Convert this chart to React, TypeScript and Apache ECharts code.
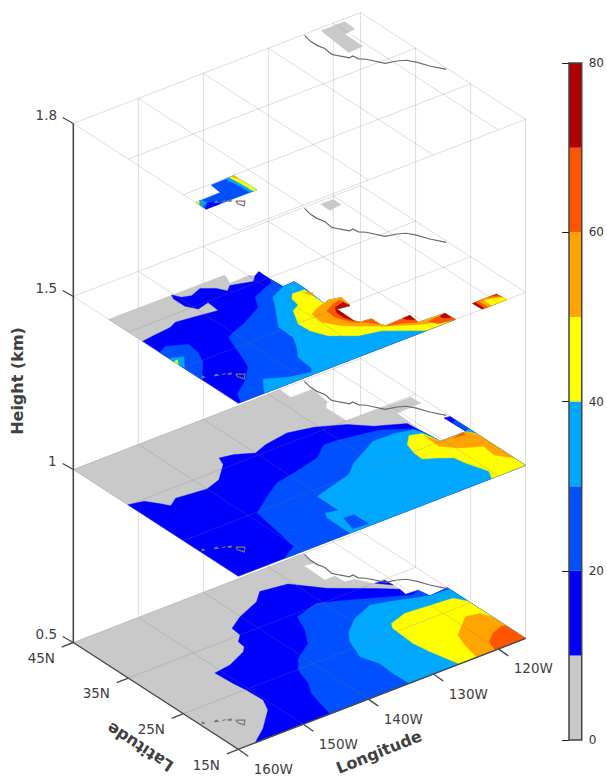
import React, { useEffect, useRef } from "react";
import * as echarts from "echarts";

type Pt = number[];

// ---- axis values ----
const lonTicks = [-160, -150, -140, -130, -120];
const lonLabels = ["160W", "150W", "140W", "130W", "120W"];
const latTicks = [15, 25, 35, 45];
const latLabels = ["15N", "25N", "35N", "45N"];
const heightLabels = ["0.5", "1", "1.5", "1.8"];
const lonEast = -115.8;
const lonWest = -160;
const latS = 15;
const latN = 45;

// ---- colour scale ----
const colorStops = [0, 10, 20, 30, 40, 50, 60, 70, 80];
const colorBins = ["#c9c9c9", "#0000ff", "#0050ff", "#00a8ff", "#ffff00", "#ffa400", "#ff5500", "#b00000"];
const colorTicks = [0, 20, 40, 60, 80];

// ---- coast and islands (lon, lat) ----
const coast: Pt[] = [[-124.6, 44.8], [-124.9, 43.4], [-124.9, 42.2], [-124.6, 41.1], [-124.8, 39.6], [-124.3, 38.8], [-123.6, 37.8], [-123, 37.9], [-122.9, 37], [-122.2, 36.4], [-121, 34.4], [-119.5, 34], [-118.5, 33.5], [-117.8, 32.5], [-117.1, 30.9], [-116, 29.2]];
const islandBig: Pt[] = [[-155.9, 20.3], [-155, 19.7], [-155.8, 18.9], [-156.1, 19.7], [-155.9, 20.3]];
const islandMaui: Pt[] = [[-156.7, 20.9], [-156.2, 20.8], [-156.4, 20.6], [-156.7, 20.9]];
const islandMolokai: Pt[] = [[-157.3, 21.1], [-156.8, 21.1]];
const islandOahu: Pt[] = [[-158.2, 21.5], [-157.8, 21.6], [-157.8, 21.3], [-158.2, 21.5]];
const islandKauai: Pt[] = [[-159.7, 22], [-159.4, 22.2], [-159.4, 21.9], [-159.7, 22]];

// ---- 0.5 km ----
const h05Gray: Pt[] = [[-160, 45], [-124.6, 45], [-125, 42.6], [-126.35, 42.84], [-126.45, 38.9], [-124.9, 38.9], [-124.8, 37.25], [-123.5, 37], [-122.3, 35], [-120.7, 34.8], [-120.6, 33.4], [-120.6, 32.2], [-120.8, 30.9], [-119, 30.8], [-118.7, 29], [-115.8, 29.2], [-115.8, 15], [-160, 15]];
const h05Blue10: Pt[] = [[-157.4, 15], [-154.5, 17], [-151.3, 19.9], [-150.25, 22], [-150.4, 24.9], [-150.7, 27], [-150.9, 30], [-148.25, 30.4], [-145, 31.8], [-144.15, 32.65], [-144, 33.9], [-142.8, 35], [-142.6, 36.7], [-140.1, 38.2], [-136.3, 39.7], [-134.45, 41.3], [-130.6, 40.7], [-127.5, 37.3], [-122.7, 33.9], [-120.6, 32.2], [-120.8, 30.9], [-119, 30.8], [-118.7, 29], [-115.8, 29.2], [-115.8, 15]];
const h05BlueIsle: Pt[] = [[-122.1, 34.9], [-120.7, 34.8], [-120.6, 33.4]];
const h05Blue20: Pt[] = [[-145.9, 15], [-144.6, 19.9], [-143.4, 21.9], [-142.4, 24.9], [-140.7, 26.9], [-137.5, 28.9], [-135.8, 31.5], [-134.6, 34.3], [-130.7, 35.4], [-127, 33.7], [-120.2, 30.3], [-119, 30.8], [-118.7, 29], [-115.8, 29.2], [-115.8, 15]];
const h05Sky30: Pt[] = [[-133.7, 15], [-133.8, 17.85], [-133.6, 20.5], [-134.5, 23], [-133.2, 26.4], [-131.8, 28.2], [-129.3, 30.1], [-125.8, 31.45], [-123.4, 30.7], [-118.7, 29], [-115.8, 28.8], [-115.8, 15]];
const h05Yellow40: Pt[] = [[-126, 15], [-127, 19.2], [-127.4, 21.8], [-127.1, 25.8], [-126.5, 26.75], [-123.7, 27.6], [-120.6, 27.3], [-116.8, 27], [-115.8, 25.4], [-115.8, 15]];
const h05Orange50: Pt[] = [[-123.3, 15], [-122.65, 18], [-121.8, 20.2], [-118.4, 22.9], [-116.5, 22.5], [-115.8, 20.9], [-115.8, 15]];
const h05Red60: Pt[] = [[-120.5, 15], [-119.8, 16.9], [-118.2, 18.1], [-116.3, 18.8], [-115.8, 18.5], [-115.8, 15]];

// ---- 1 km ----
const h10Gray: Pt[] = [[-160, 45], [-128.2, 45], [-128.3, 42.9], [-125, 42.9], [-125.4, 39.7], [-126.5, 38.7], [-126.4, 35], [-116.7, 34.8], [-116.6, 33.1], [-120.4, 32.9], [-120.7, 28], [-120.4, 25], [-116.5, 25], [-116.6, 28.9], [-115.8, 28.7], [-115.8, 15], [-160, 15]];
const h10Blue10: Pt[] = [[-160, 35.1], [-157.9, 34.6], [-156.7, 33.05], [-156, 32], [-154.4, 33], [-151.9, 32.7], [-150, 32.5], [-147.5, 33.3], [-144.8, 35.7], [-144.25, 37.1], [-142.3, 36.7], [-140, 35.5], [-137.8, 36.3], [-134, 36.9], [-130.5, 36.1], [-126.9, 34.3], [-124.6, 32.2], [-121, 30.4], [-120.7, 28], [-120.4, 25], [-116.5, 25], [-116.6, 28.9], [-115.8, 28.7], [-115.8, 15], [-160, 15]];
const h10Blue20: Pt[] = [[-153, 15], [-150.2, 16.5], [-149.4, 21.1], [-148.75, 24.85], [-145.3, 27.1], [-142.35, 28.8], [-139.3, 29.4], [-134.8, 30.45], [-132.2, 32.3], [-130.2, 32.2], [-124.5, 31.1], [-121.2, 29], [-120.7, 28], [-120.4, 25], [-116.5, 25], [-116.4, 27.6], [-115.8, 27.6], [-115.8, 15]];
const h10Sky30: Pt[] = [[-142.8, 15], [-142.75, 19.2], [-142.2, 20.2], [-140.5, 19.8], [-140.5, 23.7], [-137.2, 24.6], [-134.2, 25.4], [-132, 27.1], [-128.9, 28.6], [-127, 29.6], [-123.8, 29.5], [-121.3, 28.9], [-120.8, 27.6], [-120.4, 25], [-116.5, 25], [-115.8, 25.3], [-115.8, 15]];
const h10BlueIsle: Pt[] = [[-141.2, 18.1], [-139.7, 18], [-139.6, 15.4], [-141.9, 15.6]];
const h10Yellow40: Pt[] = [[-121, 15], [-120.2, 16.5], [-121.25, 19.5], [-121.6, 21.2], [-123.2, 22.3], [-124.8, 23.15], [-124.7, 24.8], [-124.1, 26.7], [-122.6, 28.15], [-121, 27.6], [-120.4, 25], [-116.5, 25], [-115.8, 23.9], [-115.8, 15]];
const h10Orange50: Pt[] = [[-121.2, 27.1], [-120.4, 25], [-116.5, 25], [-115.8, 23.4], [-115.8, 17.1], [-117.3, 19], [-117, 21.2], [-119.5, 22.5], [-121.3, 24.25]];
const h10Red60: Pt[] = [[-118.6, 24.7], [-117, 25], [-117, 24.5]];

// ---- 1.5 km ----
const h15Gray: Pt[] = [[-160, 38.6], [-142.2, 38.5], [-142.9, 36.7], [-139.8, 36.8], [-139.4, 36.3], [-138.4, 36.8], [-138.45, 34.7], [-138.3, 32.5], [-136.5, 32.6], [-136.5, 30.7], [-136.9, 26.6], [-136, 27], [-134.3, 26.6], [-134.7, 24.6], [-136.5, 24.9], [-136.6, 21.7], [-136.2, 21], [-134.6, 20.8], [-134.6, 19.3], [-134.2, 18.6], [-130.4, 18.8], [-130.6, 17], [-126.7, 16.8], [-126.6, 15], [-160, 15]];
const h15GrayNorth: Pt[] = [[-122.4, 44.45], [-120.5, 44.4], [-120.5, 43], [-122.5, 42.7]];
const h15Blue10: Pt[] = [[-160, 32.4], [-157.8, 32.7], [-155.3, 32.95], [-154, 33.55], [-150.8, 33.1], [-148.1, 32.7], [-147.9, 34.8], [-149.8, 34.3], [-150.7, 35.7], [-150.7, 37.8], [-150.3, 38.6], [-149.7, 37.5], [-148.5, 37.1], [-146.6, 37.8], [-145, 36.7], [-144.3, 35.5], [-143.3, 36.3], [-140.4, 35.4], [-139.4, 36.3], [-138.4, 36.8], [-138.45, 34.7], [-138.3, 32.5], [-136.5, 32.6], [-136.5, 30.7], [-136.9, 26.6], [-136, 27], [-134.3, 26.6], [-134.7, 24.6], [-136.5, 24.9], [-136.6, 21.7], [-136.2, 21], [-134.6, 20.8], [-134.6, 19.3], [-134.2, 18.6], [-130.4, 18.8], [-130.6, 17], [-126.7, 16.8], [-126.6, 15], [-160, 15]];
const h15Blue20Patch: Pt[] = [[-160, 29.3], [-158.6, 29.95], [-156, 28.8], [-156.3, 26.7], [-157.3, 24.6], [-158.9, 22.9], [-160, 21.5]];
const h15SkyPatch: Pt[] = [[-160, 27.6], [-158.3, 26.9], [-159.8, 25], [-160, 25.5]];
const h15YellowPatch: Pt[] = [[-160, 26.7], [-159.4, 26.8], [-160, 25.9]];
const h15Blue20: Pt[] = [[-159.6, 15], [-158.7, 16.7], [-156, 18.5], [-153.7, 20.65], [-152.9, 22.5], [-151.1, 27.3], [-149.5, 28], [-147.7, 28.6], [-143.8, 30.5], [-142.6, 32.5], [-141, 33.2], [-138.8, 34], [-138.45, 34.7], [-138.3, 32.5], [-136.5, 32.6], [-136.5, 30.7], [-136.9, 26.6], [-136, 27], [-134.3, 26.6], [-134.7, 24.6], [-136.5, 24.9], [-136.6, 21.7], [-136.2, 21], [-134.6, 20.8], [-134.6, 19.3], [-134.2, 18.6], [-130.4, 18.8], [-130.6, 17], [-126.7, 16.8], [-126.6, 15]];
const h15Sky30: Pt[] = [[-156, 15], [-154, 17.6], [-151.3, 16.2], [-148.3, 15.5], [-147.7, 16.2], [-147.4, 19], [-146, 20.9], [-144.9, 22.9], [-144.8, 25.65], [-141.9, 29.7], [-140.9, 31.3], [-138.3, 32.5], [-136.5, 32.6], [-136.5, 30.7], [-136.9, 26.6], [-136, 27], [-134.3, 26.6], [-134.7, 24.6], [-136.5, 24.9], [-136.6, 21.7], [-136.2, 21], [-134.6, 20.8], [-134.6, 19.3], [-134.2, 18.6], [-130.4, 18.8], [-130.6, 17], [-126.7, 16.8], [-126.6, 15]];
const h15Yellow40: Pt[] = [[-136.7, 30.5], [-138.5, 30.6], [-139.3, 29.7], [-139.6, 28.2], [-140.9, 27.6], [-142.4, 24.9], [-142.3, 22.9], [-141.3, 20.8], [-138.4, 18.75], [-135.4, 18], [-131, 15], [-126.6, 15], [-126.7, 16.8], [-130.6, 17], [-130.4, 18.8], [-134.2, 18.6], [-134.6, 19.3], [-134.6, 20.8], [-136.2, 21], [-136.6, 21.7], [-136.5, 24.9], [-134.7, 24.6], [-134.3, 26.6], [-136, 27], [-136.9, 26.6]];
const h15Orange50: Pt[] = [[-139.65, 25.7], [-138, 26.5], [-136, 27], [-134.3, 26.6], [-134.7, 24.6], [-136.5, 24.9], [-136.6, 21.7], [-136.2, 21], [-134.6, 20.8], [-134.6, 19.3], [-134.2, 18.6], [-130.4, 18.8], [-130.6, 17], [-126.7, 16.8], [-126.6, 15], [-130.6, 16.4], [-134.4, 18.6], [-138.5, 21.6], [-139.9, 23.6]];
const h15OrangeSpot: Pt[] = [[-137.3, 30.2], [-136.3, 29.4], [-136.9, 29]];
const h15Red60A: Pt[] = [[-137.7, 25.3], [-136.1, 26], [-134.8, 26.3], [-134.7, 24.6], [-136.5, 24.9], [-136.6, 21.7], [-136.2, 21], [-137, 21.6], [-137.9, 23.6]];
const h15Red60B: Pt[] = [[-136, 20.9], [-134.6, 20.8], [-134.6, 19.3], [-135.2, 20.1]];
const h15Red60C: Pt[] = [[-134.2, 18.6], [-130.4, 18.8], [-130.6, 17], [-132, 17.8]];
const h15Red60D: Pt[] = [[-129.5, 16.5], [-126.7, 16.8], [-126.6, 15], [-128.9, 15.4]];
const h15Dark70A: Pt[] = [[-136.4, 25.3], [-134.9, 25.6], [-134.7, 24.6], [-136.5, 24.9], [-136.6, 21.7], [-137.1, 23], [-137, 24.3]];
const h15Dark70B: Pt[] = [[-131.5, 18.75], [-130.4, 18.8], [-130.5, 17.7], [-131.3, 18.3]];
const h15Dark70C: Pt[] = [[-127.6, 16.6], [-126.7, 16.8], [-126.7, 15.65], [-127.6, 16.1]];
const h15EastDark: Pt[] = [[-122.6, 16.65], [-118.85, 16.7], [-118.7, 15], [-122.5, 15]];
const h15EastRed: Pt[] = [[-122.1, 15], [-122.1, 16.65], [-119.6, 16.7], [-118.8, 16.3], [-118.7, 15]];
const h15EastOrange: Pt[] = [[-121.6, 15], [-121.6, 16.6], [-120.3, 16.65], [-118.75, 15.9], [-118.7, 15]];
const h15EastYellow: Pt[] = [[-121, 15], [-121, 16.4], [-120, 16.2], [-118.75, 15.6], [-118.7, 15]];

// ---- 1.8 km ----
const h18GrayNorth: Pt[] = [[-122.3, 44.5], [-118.7, 44.5], [-118.8, 42.5], [-120.5, 42.3], [-120.6, 38.9], [-122.9, 38.8]];
const h18Blue20: Pt[] = [[-159.9, 22.8], [-156.1, 22.9], [-155.9, 24.8], [-152.3, 24.9], [-152.2, 20.85], [-160, 20.9]];
const h18Blue10: Pt[] = [[-160, 20.9], [-157.8, 20.9], [-157.6, 21.4], [-158.9, 21.9]];
const h18SkyW: Pt[] = [[-159.9, 22.8], [-159.1, 22.85], [-158.9, 22], [-160, 21.5]];
const h18YellowW: Pt[] = [[-159.9, 22.8], [-159.4, 22.85], [-160, 22.1]];
const h18SkyE: Pt[] = [[-153.6, 24.9], [-152.3, 24.9], [-152.2, 20.85], [-153.2, 20.9], [-153.3, 23]];
const h18YellowE: Pt[] = [[-153, 24.9], [-152.3, 24.9], [-152.2, 20.85], [-152.7, 20.9], [-152.8, 23]];
const h18OrangeE: Pt[] = [[-152.7, 24.9], [-152.3, 24.9], [-152.3, 24], [-152.5, 24.5]];

type Item = { level: number; color: string; pts: Pt[] };
const filled: Item[] = [
  { level: 0, color: colorBins[0], pts: h05Gray },
  { level: 0, color: colorBins[1], pts: h05Blue10 },
  { level: 0, color: colorBins[1], pts: h05BlueIsle },
  { level: 0, color: colorBins[2], pts: h05Blue20 },
  { level: 0, color: colorBins[3], pts: h05Sky30 },
  { level: 0, color: colorBins[4], pts: h05Yellow40 },
  { level: 0, color: colorBins[5], pts: h05Orange50 },
  { level: 0, color: colorBins[6], pts: h05Red60 },
  { level: 1, color: colorBins[0], pts: h10Gray },
  { level: 1, color: colorBins[1], pts: h10Blue10 },
  { level: 1, color: colorBins[2], pts: h10Blue20 },
  { level: 1, color: colorBins[3], pts: h10Sky30 },
  { level: 1, color: colorBins[2], pts: h10BlueIsle },
  { level: 1, color: colorBins[4], pts: h10Yellow40 },
  { level: 1, color: colorBins[5], pts: h10Orange50 },
  { level: 1, color: colorBins[6], pts: h10Red60 },
  { level: 2, color: colorBins[0], pts: h15Gray },
  { level: 2, color: colorBins[0], pts: h15GrayNorth },
  { level: 2, color: colorBins[1], pts: h15Blue10 },
  { level: 2, color: colorBins[2], pts: h15Blue20Patch },
  { level: 2, color: colorBins[3], pts: h15SkyPatch },
  { level: 2, color: colorBins[4], pts: h15YellowPatch },
  { level: 2, color: colorBins[2], pts: h15Blue20 },
  { level: 2, color: colorBins[3], pts: h15Sky30 },
  { level: 2, color: colorBins[4], pts: h15Yellow40 },
  { level: 2, color: colorBins[5], pts: h15OrangeSpot },
  { level: 2, color: colorBins[5], pts: h15Orange50 },
  { level: 2, color: colorBins[6], pts: h15Red60A },
  { level: 2, color: colorBins[6], pts: h15Red60B },
  { level: 2, color: colorBins[6], pts: h15Red60C },
  { level: 2, color: colorBins[6], pts: h15Red60D },
  { level: 2, color: colorBins[7], pts: h15Dark70A },
  { level: 2, color: colorBins[7], pts: h15Dark70B },
  { level: 2, color: colorBins[7], pts: h15Dark70C },
  { level: 2, color: colorBins[7], pts: h15EastDark },
  { level: 2, color: colorBins[6], pts: h15EastRed },
  { level: 2, color: colorBins[5], pts: h15EastOrange },
  { level: 2, color: colorBins[4], pts: h15EastYellow },
  { level: 3, color: colorBins[0], pts: h18GrayNorth },
  { level: 3, color: colorBins[2], pts: h18Blue20 },
  { level: 3, color: colorBins[1], pts: h18Blue10 },
  { level: 3, color: colorBins[3], pts: h18SkyW },
  { level: 3, color: colorBins[4], pts: h18YellowW },
  { level: 3, color: colorBins[3], pts: h18SkyE },
  { level: 3, color: colorBins[4], pts: h18YellowE },
  { level: 3, color: colorBins[5], pts: h18OrangeE },
];

// Oblique projection of (lon, lat, level) into the scene axes
function project(lon: number, lat: number, level: number): number[] {
  const a = lon - lonWest;
  const b = lat - latS;
  return [238.3 + a * 6.5 - b * 5.5, 749.3 - a * 2.51 - b * 3.56 - level * 173];
}

const gridStroke = "rgba(120,120,120,0.25)";
const axisStroke = "#4a4a4a";
const FONT = '"DejaVu Sans"';

type Draw =
  | { kind: "poly"; color: string; pts: number[][] }
  | { kind: "line"; color: string; width: number; pts: number[][] };

function buildDraws(): Draw[] {
  const out: Draw[] = [];
  const gridLons = [...lonTicks, lonEast];
  for (let k = 0; k < heightLabels.length; k++) {
    filled.filter((f) => f.level === k).forEach((f) => {
      out.push({ kind: "poly", color: f.color, pts: f.pts.map((p) => project(p[0], p[1], k)) });
    });
    gridLons.forEach((lon) => {
      out.push({ kind: "line", color: gridStroke, width: 1, pts: [project(lon, latS, k), project(lon, latN, k)] });
    });
    latTicks.forEach((lat) => {
      out.push({ kind: "line", color: gridStroke, width: 1, pts: [project(lonWest, lat, k), project(lonEast, lat, k)] });
    });
    out.push({ kind: "line", color: "#6a6a6a", width: 1.2, pts: coast.map((p) => project(p[0], p[1], k)) });
    [islandBig, islandMaui, islandMolokai, islandOahu, islandKauai].forEach((isl) => {
      out.push({ kind: "line", color: "#777777", width: 1.2, pts: isl.map((p) => project(p[0], p[1], k)) });
    });
  }
  return out;
}

function buildWalls(): Draw[] {
  const top = heightLabels.length - 1;
  const out: Draw[] = [];
  lonTicks.slice(1).forEach((lon) => {
    out.push({ kind: "line", color: "#dddddd", width: 1, pts: [project(lon, latN, 0), project(lon, latN, top)] });
  });
  latTicks.forEach((lat) => {
    out.push({ kind: "line", color: "#dddddd", width: 1, pts: [project(lonEast, lat, 0), project(lonEast, lat, top)] });
  });
  return out;
}

function buildAxes(): Draw[] {
  const top = heightLabels.length - 1;
  const out: Draw[] = [];
  const line = (pts: number[][], width = 1.4) => out.push({ kind: "line", color: axisStroke, width, pts });
  line([project(lonWest, latN, 0), project(lonWest, latS, 0), project(lonEast, latS, 0)]);
  line([project(lonWest, latN, 0), project(lonWest, latN, top)], 1.6);
  heightLabels.forEach((_, k) => {
    const p = project(lonWest, latN, k);
    line([[p[0] - 10.6, p[1] - 6], p]);
  });
  latTicks.forEach((lat) => {
    const p = project(lonWest, lat, 0);
    line([[p[0] - 11.6, p[1] + 4.6], p]);
  });
  lonTicks.forEach((lon) => {
    const p = project(lon, latS, 0);
    line([p, [p[0] + 10, p[1] + 7]]);
  });
  return out;
}

type Label = { text: string; at: number[]; rot: number; font: string };

function buildLabels(): Label[] {
  const out: Label[] = [];
  const tick = `13.5px ${FONT}`;
  const title = `bold 16px ${FONT}`;
  heightLabels.forEach((t, k) => {
    const p = project(lonWest, latN, k);
    out.push({ text: t, at: [p[0] - (t.length === 1 ? 21 : 27), p[1] - 9], rot: 0, font: tick });
  });
  latTicks.forEach((lat, i) => {
    const p = project(lonWest, lat, 0);
    out.push({ text: latLabels[i], at: [p[0] - 32, p[1] + 15.3], rot: 0, font: tick });
  });
  lonTicks.forEach((lon, i) => {
    const p = project(lon, latS, 0);
    out.push({ text: lonLabels[i], at: [p[0] + 35, p[1] + 19.5], rot: 0, font: tick });
  });
  out.push({ text: "Height (km)", at: [17, 381], rot: Math.PI / 2, font: title });
  out.push({ text: "Longitude", at: [379, 752], rot: (22 * Math.PI) / 180, font: title });
  out.push({ text: "Latitude", at: [140, 747], rot: (147 * Math.PI) / 180, font: title });
  return out;
}

function drawSeries(draws: Draw[], z: number) {
  return {
    type: "custom",
    coordinateSystem: "cartesian2d",
    xAxisIndex: 0,
    yAxisIndex: 0,
    clip: false,
    silent: true,
    z,
    data: draws.map((_, i) => [i, 0]),
    renderItem: (params: any, api: any) => {
      const d = draws[params.dataIndex];
      const points = d.pts.map((p) => api.coord(p));
      if (d.kind === "poly") {
        return { type: "polygon", shape: { points }, style: { fill: d.color, stroke: d.color, lineWidth: 0.4 } };
      }
      return { type: "polyline", shape: { points }, style: { fill: "none", stroke: d.color, lineWidth: d.width } };
    },
  };
}

export default function App() {
  const ref = useRef<HTMLDivElement>(null);
  useEffect(() => {
    document.body.style.margin = "0";
    const chart = echarts.init(ref.current!, undefined, { renderer: "svg", width: 607, height: 776 });
    const labels = buildLabels();
    chart.setOption({
      animation: false,
      backgroundColor: "#ffffff",
      grid: [
        { left: 0, top: 0, width: 607, height: 776 },
        { left: 569, top: 63, width: 16, height: 677 },
      ],
      xAxis: [
        { type: "value", min: 0, max: 607, show: false, gridIndex: 0 },
        { type: "value", min: 0, max: 1, show: false, gridIndex: 1 },
      ],
      yAxis: [
        { type: "value", min: 0, max: 776, inverse: true, show: false, gridIndex: 0 },
        {
          type: "value",
          gridIndex: 1,
          min: colorTicks[0],
          max: colorTicks[colorTicks.length - 1],
          interval: 20,
          position: "right",
          z: 20,
          axisLine: { show: false },
          axisTick: { show: true, inside: true, length: 7, lineStyle: { color: "#222222", width: 1 } },
          splitLine: { show: false },
          axisLabel: { color: "#333333", fontFamily: "DejaVu Sans", fontSize: 12, margin: 7 },
        },
      ],
      series: [
        drawSeries(buildWalls(), 1),
        drawSeries(buildDraws(), 2),
        drawSeries(buildAxes(), 3),
        {
          type: "custom",
          coordinateSystem: "cartesian2d",
          xAxisIndex: 0,
          yAxisIndex: 0,
          clip: false,
          silent: true,
          z: 4,
          data: labels.map((_, i) => [i, 0]),
          renderItem: (params: any, api: any) => {
            const l = labels[params.dataIndex];
            const c = api.coord(l.at);
            return {
              type: "text",
              x: c[0],
              y: c[1],
              rotation: l.rot,
              style: { text: l.text, font: l.font, fill: "#404040", align: "center", verticalAlign: "middle" },
            };
          },
        },
        {
          type: "custom",
          coordinateSystem: "cartesian2d",
          xAxisIndex: 1,
          yAxisIndex: 1,
          clip: false,
          silent: true,
          z: 5,
          data: colorBins.map((_, i) => [i, 0]),
          renderItem: (params: any, api: any) => {
            const i = params.dataIndex;
            const a = api.coord([0, colorStops[i + 1]]);
            const b = api.coord([1, colorStops[i]]);
            return {
              type: "rect",
              shape: { x: a[0], y: a[1], width: b[0] - a[0], height: b[1] - a[1] },
              style: { fill: colorBins[i] },
            };
          },
        },
        {
          type: "custom",
          coordinateSystem: "cartesian2d",
          xAxisIndex: 1,
          yAxisIndex: 1,
          clip: false,
          silent: true,
          z: 6,
          data: [[0, 0]],
          renderItem: (_: any, api: any) => {
            const a = api.coord([0, colorStops[colorStops.length - 1]]);
            const b = api.coord([1, colorStops[0]]);
            return {
              type: "rect",
              shape: { x: a[0], y: a[1], width: b[0] - a[0], height: b[1] - a[1] },
              style: { fill: "none", stroke: "#444444", lineWidth: 1.5 },
            };
          },
        },
      ],
    });
    return () => chart.dispose();
  }, []);
  return <div ref={ref} style={{ width: 607, height: 776, position: "absolute", left: 0, top: 0 }} />;
}
